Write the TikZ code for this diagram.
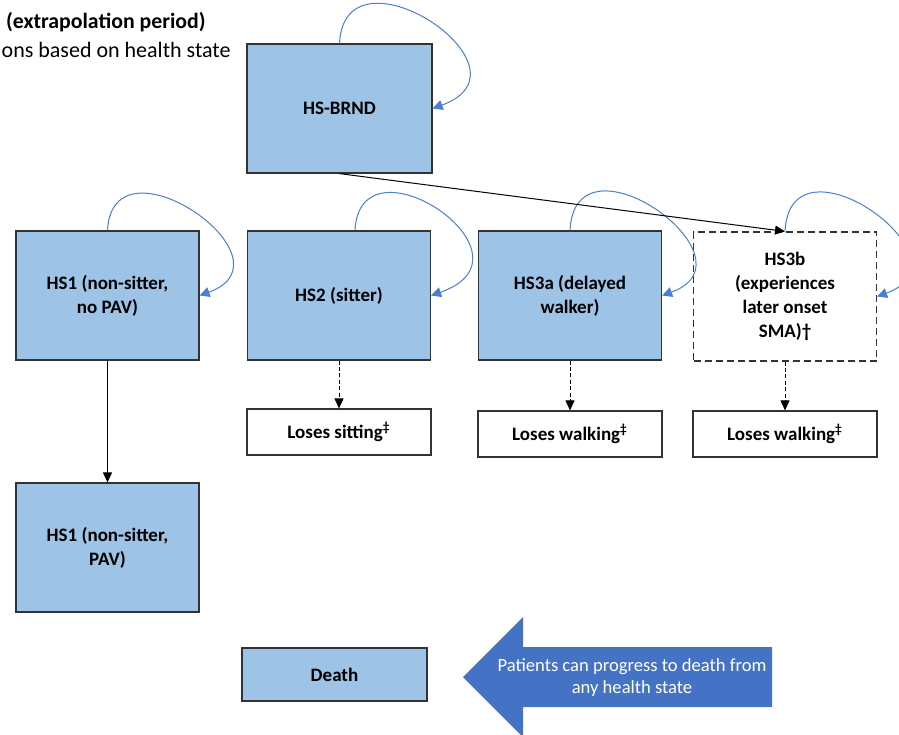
\documentclass[tikz,border=0pt]{standalone}
\usepackage{fontspec}
\setmainfont{Carlito}
\usetikzlibrary{arrows.meta, positioning}

\definecolor{boxblue}{HTML}{9DC3E6}
\definecolor{loopblue}{HTML}{4A7ED0}
\definecolor{arrowblue}{HTML}{4472C4}
\definecolor{edgegray}{HTML}{333333}

\begin{document}
\begin{tikzpicture}[x=0.5pt, y=-0.5pt]
\tikzstyle{state}=[rectangle, draw=edgegray, fill=boxblue, line width=0.6pt, minimum width=91.5pt, minimum height=64.5pt, align=center, inner sep=2pt, font=\bfseries\fontsize{9.5}{12}\selectfont]
\tikzstyle{loss}=[rectangle, draw=edgegray, fill=white, line width=0.6pt, minimum width=92pt, minimum height=23pt, align=center, inner sep=2pt, font=\bfseries\fontsize{9.5}{12}\selectfont]
\tikzstyle{selfloop}=[draw=loopblue, line width=0.5pt, -{Triangle[length=5pt, width=5pt]}]
\tikzstyle{connect}=[-{Triangle[length=5pt, width=4.5pt]}, line width=0.5pt, black]
\tikzstyle{lossconnect}=[connect, dash pattern=on 2pt off 1.2pt]
\useasboundingbox (0,0) rectangle (899,734);
% heading, cut at the left edge
\node[anchor=east, inner sep=0pt, font=\bfseries\fontsize{10.9}{12}\selectfont] (title) at (206,22) {(extrapolation period)};
\node[anchor=east, inner sep=0pt, font=\fontsize{11}{12}\selectfont] (subtitle) at (231,50) {ons based on health state};
% health states
\node[state, minimum width=92.5pt] (hsbrnd) at (339.5,108.5) {HS-BRND};
\node[state] (hs1) at (107.5,295.5) {HS1 (non-sitter,\\no PAV)};
\node[state] (hs2) at (339,295.5) {HS2 (sitter)};
\node[state] (hs3a) at (570,295.5) {HS3a (delayed\\walker)};
\node[state, fill=white, dash pattern=on 3.5pt off 2pt] (hs3b) at (785,296.5) {HS3b\\(experiences\\later onset\\SMA)†};
\node[state] (hs1pav) at (107.5,547.5) {HS1 (non-sitter,\\PAV)};
\node[state, minimum width=92.5pt, minimum height=26.5pt] (death) at (334.5,674.5) {Death};
% loss of milestone
\node[loss] (losesit) at (339,432) {Loses sitting\textsuperscript{‡}};
\node[loss] (loseswalka) at (570,434) {Loses walking\textsuperscript{‡}};
\node[loss] (loseswalkb) at (785,434) {Loses walking\textsuperscript{‡}};
% staying in the same state
\draw[selfloop] (hsbrnd.north) .. controls +(5,-105) and +(110,-40) .. (hsbrnd.east);
\draw[selfloop] (hs1.north) .. controls +(5,-100) and +(100,-36) .. (hs1.east);
\draw[selfloop] ([xshift=8pt]hs2.north) .. controls +(5,-100) and +(115,-40) .. (hs2.east);
\draw[selfloop] (hs3a.north) .. controls +(5,-105) and +(100,-36) .. (hs3a.east);
\draw[selfloop] (hs3b.north) .. controls +(5,-105) and +(100,-36) .. (hs3b.east);
% transitions
\path (hsbrnd.south) edge [connect] (hs3b.north);
\path (hs1) edge [connect] (hs1pav);
\path (hs2) edge [lossconnect] (losesit);
\path (hs3a) edge [lossconnect] (loseswalka);
\path (hs3b) edge [lossconnect] (loseswalkb);
% death from any state
\fill[arrowblue] (463,677) -- (523,617) -- (523,647) -- (772,647) -- (772,707) -- (523,707) -- (523,737) -- cycle;
\node[text=white, align=center, inner sep=0pt, font=\fontsize{9.3}{11}\selectfont] (deathnote) at (632,678) {Patients can progress to death from\\any health state};
\end{tikzpicture}
\end{document}
